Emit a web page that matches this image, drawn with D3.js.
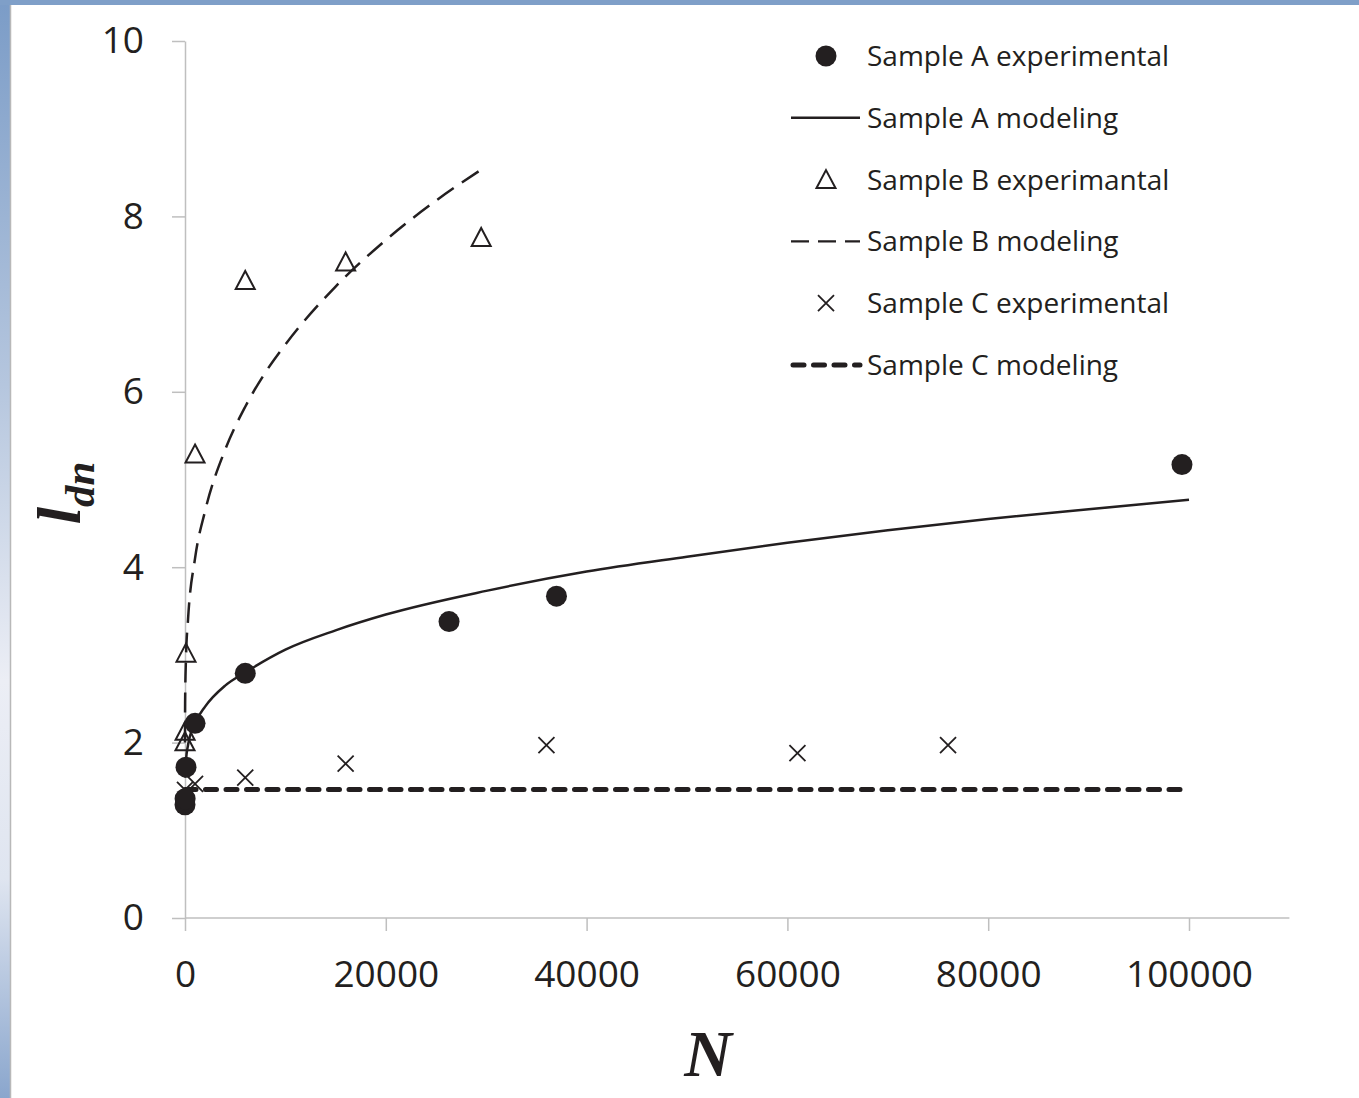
<!DOCTYPE html>
<html>
<head>
<meta charset="utf-8">
<script src="https://cdn.jsdelivr.net/npm/d3@7"></script>
<style>
  body { margin: 0; background: #fff; }
  svg { display: block; }
</style>
</head>
<body>
<div id="chart"></div>
<script>
// Width and height
var w = 1359;
var h = 1098;

// Experimental points [N, l_dn]
var sampleA_exp = [[0, 1.29], [10, 1.36], [100, 1.72], [1000, 2.22], [6000, 2.79], [26300, 3.38], [37000, 3.67], [99300, 5.17]];
var sampleB_exp = [[0, 2.01], [10, 2.13], [100, 3.02], [1000, 5.29], [6000, 7.27], [16000, 7.48], [29500, 7.76]];
var sampleC_exp = [[0, 1.46], [1000, 1.53], [6000, 1.60], [16000, 1.76], [36000, 1.97], [61000, 1.88], [76000, 1.97]];

// Modeling curves [N, l_dn]
var sampleA_mod = [[0, 1.60], [100, 1.80], [300, 1.97], [1000, 2.22], [2000, 2.41], [4000, 2.65], [6000, 2.80], [10000, 3.06],
    [15000, 3.28], [20000, 3.46], [30000, 3.73], [40000, 3.95], [50000, 4.12], [60000, 4.28], [70000, 4.42],
    [80000, 4.55], [90000, 4.66], [100000, 4.77]];
var sampleB_mod = [[0, 2.00], [10, 2.45], [100, 2.97], [300, 3.40], [1000, 4.10], [2000, 4.64], [4000, 5.34], [6000, 5.83],
    [8000, 6.22], [10000, 6.54], [15000, 7.20], [20000, 7.73], [25000, 8.18], [30000, 8.57]];
var sampleC_mod = [[0, 1.465], [100000, 1.465]];

var xTicks = [0, 20000, 40000, 60000, 80000, 100000];
var yTicks = [0, 2, 4, 6, 8, 10];

var legendLabels = ["Sample A experimental", "Sample A modeling", "Sample B experimantal",
    "Sample B modeling", "Sample C experimental", "Sample C modeling"];

var ink = "#231f20";
var axisGrey = "#bfbfbf";

var svg = d3.select("#chart")
            .append("svg")
            .attr("width", w)
            .attr("height", h);

// blue frame on the left and top
var defs = svg.append("defs");
var grad = defs.append("linearGradient")
    .attr("id", "side")
    .attr("x1", 0).attr("y1", 0).attr("x2", 0).attr("y2", 1);
grad.append("stop").attr("offset", "0%").attr("stop-color", "#7b9cc7");
grad.append("stop").attr("offset", "35%").attr("stop-color", "#b5c6de");
grad.append("stop").attr("offset", "62%").attr("stop-color", "#eceef5");
grad.append("stop").attr("offset", "80%").attr("stop-color", "#dfe5f0");
grad.append("stop").attr("offset", "100%").attr("stop-color", "#8aa6cd");

svg.append("rect").attr("x", 0).attr("y", 0).attr("width", 10).attr("height", h).style("fill", "url(#side)");
svg.append("rect").attr("x", 0).attr("y", 0).attr("width", w).attr("height", 5).style("fill", "#7f9fc8");
svg.append("line").attr("x1", 10.5).attr("x2", 10.5).attr("y1", 5).attr("y2", h)
    .style("stroke", "#b8b8b8").style("stroke-width", 1.5);

// scales
var x = d3.scaleLinear().domain([0, 100000]).range([185, 1189]);
var y = d3.scaleLinear().domain([0, 10]).range([918, 41]);

var xAxis = d3.axisBottom(x)
    .tickValues(xTicks)
    .tickSize(13)
    .tickSizeOuter(0)
    .tickPadding(30)
    .tickFormat(d3.format("d"));

var yAxis = d3.axisLeft(y)
    .tickValues(yTicks)
    .tickSize(13)
    .tickSizeOuter(0)
    .tickPadding(28)
    .tickFormat(d3.format("d"));

var gx = svg.append("g")
    .attr("transform", "translate(0," + y(0) + ")")
    .call(xAxis);
// extend the axis line past the last tick
gx.select(".domain").attr("d", "M" + x(0) + ",0H" + x(110000));

var gy = svg.append("g")
    .attr("transform", "translate(" + x(0) + ",0)")
    .call(yAxis);

[gx, gy].forEach(function (g) {
    g.selectAll(".domain, line").style("stroke", axisGrey).style("stroke-width", 1.5);
    g.selectAll("text")
        .style("font-family", "'Open Sans', sans-serif")
        .style("font-size", "37px")
        .style("fill", ink);
});

// axis titles
svg.append("text")
    .attr("x", 708)
    .attr("y", 1076)
    .attr("text-anchor", "middle")
    .style("font-family", "'Liberation Serif', 'Times New Roman', serif")
    .style("font-weight", "bold")
    .style("font-style", "italic")
    .style("font-size", "66px")
    .style("fill", ink)
    .text("N");

var yTitle = svg.append("text")
    .attr("transform", "translate(80,493) rotate(-90)")
    .attr("text-anchor", "middle")
    .style("font-family", "'Liberation Serif', 'Times New Roman', serif")
    .style("font-weight", "bold")
    .style("font-style", "italic")
    .style("fill", ink);
yTitle.append("tspan").style("font-size", "62px").text("l");
yTitle.append("tspan").attr("dy", 14).style("font-size", "43px").text("dn");

// line generators
var smooth = d3.line()
    .x(function (d) { return x(d[0]); })
    .y(function (d) { return y(d[1]); })
    .curve(d3.curveMonotoneX);

svg.append("path")
    .datum(sampleA_mod)
    .attr("d", smooth)
    .style("fill", "none")
    .style("stroke", ink)
    .style("stroke-width", 2.5);

svg.append("path")
    .datum(sampleB_mod)
    .attr("d", smooth)
    .style("fill", "none")
    .style("stroke", ink)
    .style("stroke-width", 2.5)
    .style("stroke-dasharray", "20,10");

svg.append("path")
    .datum(sampleC_mod)
    .attr("d", smooth)
    .style("fill", "none")
    .style("stroke", ink)
    .style("stroke-width", 5)
    .style("stroke-linecap", "round")
    .style("stroke-dasharray", "11,9.5");

// markers
var triPath = "M0,-9.5L9.5,8.5L-9.5,8.5Z";
var crossPath = "M-8,-8L8,8M8,-8L-8,8";

svg.selectAll(".ptB")
    .data(sampleB_exp)
    .enter()
    .append("path")
    .attr("class", "ptB")
    .attr("d", triPath)
    .attr("transform", function (d) { return "translate(" + x(d[0]) + "," + y(d[1]) + ")"; })
    .style("fill", "none")
    .style("stroke", ink)
    .style("stroke-width", 2);

svg.selectAll(".ptC")
    .data(sampleC_exp)
    .enter()
    .append("path")
    .attr("class", "ptC")
    .attr("d", crossPath)
    .attr("transform", function (d) { return "translate(" + x(d[0]) + "," + y(d[1]) + ")"; })
    .style("fill", "none")
    .style("stroke", ink)
    .style("stroke-width", 1.8);

svg.selectAll(".ptA")
    .data(sampleA_exp)
    .enter()
    .append("circle")
    .attr("class", "ptA")
    .attr("cx", function (d) { return x(d[0]); })
    .attr("cy", function (d) { return y(d[1]); })
    .attr("r", 10.5)
    .style("fill", ink);

// legend
var legend = svg.append("g");
var rowY = function (i) { return 56 + i * 61.8; };

legend.selectAll("text")
    .data(legendLabels)
    .enter()
    .append("text")
    .attr("x", 867)
    .attr("y", function (d, i) { return rowY(i) + 10; })
    .style("font-family", "'Open Sans', sans-serif")
    .style("font-size", "28px")
    .style("fill", ink)
    .text(function (d) { return d; });

legend.append("circle").attr("cx", 826).attr("cy", rowY(0)).attr("r", 10.5).style("fill", ink);
legend.append("line").attr("x1", 791).attr("x2", 860).attr("y1", rowY(1)).attr("y2", rowY(1))
    .style("stroke", ink).style("stroke-width", 2.5);
legend.append("path").attr("d", triPath).attr("transform", "translate(826," + rowY(2) + ")")
    .style("fill", "none").style("stroke", ink).style("stroke-width", 2);
legend.append("line").attr("x1", 791).attr("x2", 860).attr("y1", rowY(3)).attr("y2", rowY(3))
    .style("stroke", ink).style("stroke-width", 2.3).style("stroke-dasharray", "18,9");
legend.append("path").attr("d", crossPath).attr("transform", "translate(826," + rowY(4) + ")")
    .style("fill", "none").style("stroke", ink).style("stroke-width", 1.8);
legend.append("line").attr("x1", 793).attr("x2", 860).attr("y1", rowY(5)).attr("y2", rowY(5))
    .style("stroke", ink).style("stroke-width", 5).style("stroke-linecap", "round")
    .style("stroke-dasharray", "11,9.5");
</script>
</body>
</html>
